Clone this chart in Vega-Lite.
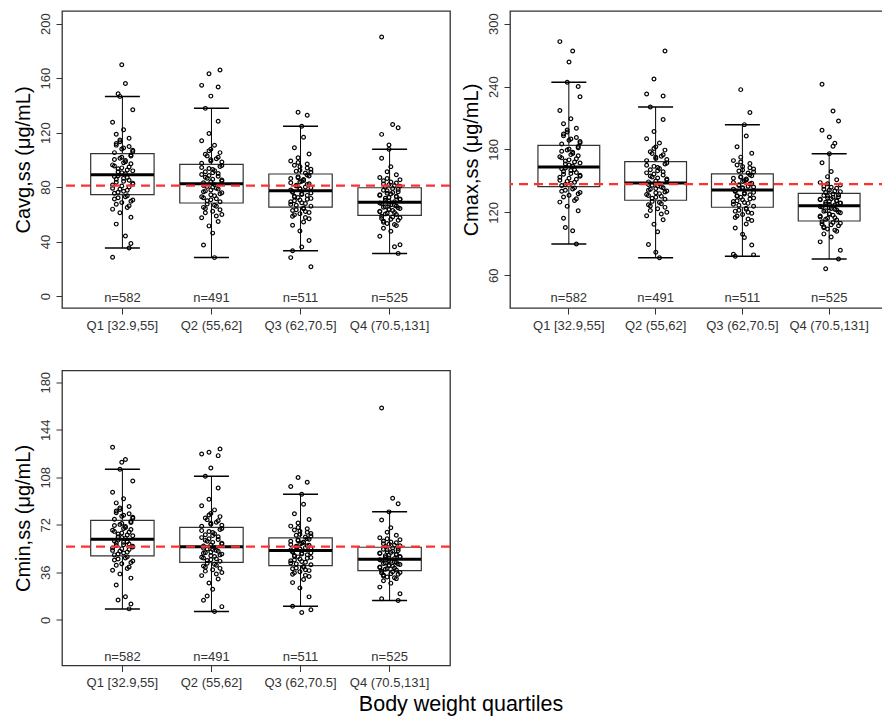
{
"$schema":"https://vega.github.io/schema/vega-lite/v6.json",
"background":"white",
"padding":{"left":12,"top":10,"right":0,"bottom":0},
"config":{"font":"Liberation Sans","view":{"stroke":"#333","strokeWidth":1.3},
"axis":{"labelFont":"Liberation Sans","labelFontSize":13,"labelColor":"#333","tickColor":"#333","tickSize":6,"domain":false,"grid":false,"titleFont":"Liberation Sans","titleFontWeight":"normal","titleColor":"black"},
"axisY":{"labelAngle":270,"labelAlign":"center","labelBaseline":"bottom","labelPadding":4,"titleFontSize":20,"titlePadding":6},
"axisX":{"labelAngle":0,"labelPadding":5}},
"title":{"text":"Body weight quartiles","orient":"bottom","anchor":"middle","fontSize":21.5,"fontWeight":"normal","color":"black","font":"Liberation Sans","offset":4,"dx":10},
"datasets":{
"grp":[{"g":1,"lab":"Q1 [32.9,55]","nl":"n=582"},{"g":2,"lab":"Q2 (55,62]","nl":"n=491"},{"g":3,"lab":"Q3 (62,70.5]","nl":"n=511"},{"g":4,"lab":"Q4 (70.5,131]","nl":"n=525"}],
"ref":[{"p":"a","r":81},{"p":"x","r":147},{"p":"n","r":55.5}],
"box":[
{"p":"a","g":1,"lo":35.2,"q1":74.4,"md":89.1,"q3":104.5,"hi":146.6},
{"p":"a","g":2,"lo":28.2,"q1":68.3,"md":82.5,"q3":96.7,"hi":137.8},
{"p":"a","g":3,"lo":33.3,"q1":65.3,"md":77.3,"q3":89.6,"hi":124.6},
{"p":"a","g":4,"lo":31.3,"q1":59.2,"md":68.8,"q3":79.5,"hi":107.7},
{"p":"x","g":1,"lo":89.9,"q1":144.5,"md":163.3,"q3":184,"hi":244.2},
{"p":"x","g":2,"lo":76.8,"q1":131.6,"md":148.1,"q3":168.4,"hi":220.6},
{"p":"x","g":3,"lo":78.1,"q1":124.9,"md":141.4,"q3":156.7,"hi":203.7},
{"p":"x","g":4,"lo":75.6,"q1":111.8,"md":126.4,"q3":138.2,"hi":176},
{"p":"n","g":1,"lo":8.3,"q1":48.5,"md":61,"q3":75.4,"hi":114.1},
{"p":"n","g":2,"lo":6.3,"q1":43.6,"md":55.3,"q3":70.1,"hi":108.8},
{"p":"n","g":3,"lo":10.3,"q1":41.1,"md":52.5,"q3":62.1,"hi":95.1},
{"p":"n","g":4,"lo":14.6,"q1":37.3,"md":45.9,"q3":55,"hi":81.8}],
"pts":[
{"p":"a","g":1,"k":7,"v":44.1},{"p":"a","g":1,"k":2,"v":52.8},{"p":"a","g":1,"k":10,"v":57.9},{"p":"a","g":1,"k":4,"v":61.1},{"p":"a","g":1,"k":0,"v":63.8},{"p":"a","g":1,"k":9,"v":66.2},{"p":"a","g":1,"k":5,"v":68.6},{"p":"a","g":1,"k":11,"v":70.5},{"p":"a","g":1,"k":3,"v":72.1},{"p":"a","g":1,"k":8,"v":73.7},
{"p":"a","g":1,"k":1,"v":75.4},{"p":"a","g":1,"k":6,"v":77},{"p":"a","g":1,"k":4,"v":78.4},{"p":"a","g":1,"k":9,"v":80},{"p":"a","g":1,"k":0,"v":81.5},{"p":"a","g":1,"k":11,"v":82.9},{"p":"a","g":1,"k":6,"v":84.2},{"p":"a","g":1,"k":2,"v":85.7},{"p":"a","g":1,"k":8,"v":87},{"p":"a","g":1,"k":3,"v":88.3},
{"p":"a","g":1,"k":10,"v":103.6},{"p":"a","g":1,"k":5,"v":101.9},{"p":"a","g":1,"k":1,"v":100.3},{"p":"a","g":1,"k":7,"v":98.6},{"p":"a","g":1,"k":10,"v":97.1},{"p":"a","g":1,"k":1,"v":95.5},{"p":"a","g":1,"k":5,"v":94.1},{"p":"a","g":1,"k":8,"v":92.6},{"p":"a","g":1,"k":3,"v":91.2},{"p":"a","g":1,"k":7,"v":89.8},
{"p":"a","g":1,"k":11,"v":136.8},{"p":"a","g":1,"k":0,"v":127.6},{"p":"a","g":1,"k":6,"v":122.1},{"p":"a","g":1,"k":2,"v":118.8},{"p":"a","g":1,"k":9,"v":115.8},{"p":"a","g":1,"k":4,"v":113.3},{"p":"a","g":1,"k":2,"v":110.8},{"p":"a","g":1,"k":6,"v":108.7},{"p":"a","g":1,"k":11,"v":107},{"p":"a","g":1,"k":1,"v":105.3},
{"p":"a","g":1,"k":9,"v":35.2},{"p":"a","g":1,"k":4,"v":146.6},{"p":"a","g":1,"k":0,"v":28.4},{"p":"a","g":1,"k":7,"v":156},{"p":"a","g":1,"k":5,"v":169.8},{"p":"a","g":1,"k":10,"v":38.5},{"p":"a","g":1,"k":3,"v":148.5},
{"p":"a","g":1,"k":3,"v":76.2},{"p":"a","g":1,"k":8,"v":77.7},{"p":"a","g":1,"k":0,"v":79.2},{"p":"a","g":1,"k":5,"v":80.8},{"p":"a","g":1,"k":11,"v":82.2},{"p":"a","g":1,"k":2,"v":83.6},{"p":"a","g":1,"k":9,"v":85},{"p":"a","g":1,"k":6,"v":86.4},{"p":"a","g":1,"k":1,"v":87.7},
{"p":"a","g":1,"k":10,"v":102.8},{"p":"a","g":1,"k":4,"v":101.1},{"p":"a","g":1,"k":7,"v":99.5},{"p":"a","g":1,"k":6,"v":97.9},{"p":"a","g":1,"k":0,"v":96.3},{"p":"a","g":1,"k":9,"v":94.8},{"p":"a","g":1,"k":3,"v":93.4},{"p":"a","g":1,"k":11,"v":91.9},{"p":"a","g":1,"k":5,"v":90.5},
{"p":"a","g":1,"k":8,"v":65},{"p":"a","g":1,"k":2,"v":67.4},{"p":"a","g":1,"k":10,"v":69.6},{"p":"a","g":1,"k":1,"v":71.3},{"p":"a","g":1,"k":7,"v":72.9},
{"p":"a","g":1,"k":4,"v":114.6},{"p":"a","g":1,"k":2,"v":112},{"p":"a","g":1,"k":9,"v":109.8},{"p":"a","g":1,"k":5,"v":107.9},{"p":"a","g":1,"k":11,"v":106.2},
{"p":"a","g":2,"k":1,"v":37.4},{"p":"a","g":2,"k":6,"v":46.2},{"p":"a","g":2,"k":4,"v":51.5},{"p":"a","g":2,"k":9,"v":54.7},{"p":"a","g":2,"k":0,"v":57.5},{"p":"a","g":2,"k":11,"v":59.9},{"p":"a","g":2,"k":6,"v":62.3},{"p":"a","g":2,"k":2,"v":64.3},{"p":"a","g":2,"k":8,"v":65.9},{"p":"a","g":2,"k":3,"v":67.5},
{"p":"a","g":2,"k":10,"v":69.2},{"p":"a","g":2,"k":5,"v":70.7},{"p":"a","g":2,"k":1,"v":72.1},{"p":"a","g":2,"k":7,"v":73.7},{"p":"a","g":2,"k":10,"v":75.1},{"p":"a","g":2,"k":1,"v":76.5},{"p":"a","g":2,"k":5,"v":77.8},{"p":"a","g":2,"k":8,"v":79.2},{"p":"a","g":2,"k":3,"v":80.5},{"p":"a","g":2,"k":7,"v":81.8},
{"p":"a","g":2,"k":11,"v":95.8},{"p":"a","g":2,"k":0,"v":94.3},{"p":"a","g":2,"k":6,"v":92.9},{"p":"a","g":2,"k":2,"v":91.3},{"p":"a","g":2,"k":9,"v":89.9},{"p":"a","g":2,"k":4,"v":88.5},{"p":"a","g":2,"k":2,"v":87.2},{"p":"a","g":2,"k":6,"v":85.8},{"p":"a","g":2,"k":11,"v":84.5},{"p":"a","g":2,"k":1,"v":83.2},
{"p":"a","g":2,"k":9,"v":128.3},{"p":"a","g":2,"k":4,"v":119.3},{"p":"a","g":2,"k":0,"v":114},{"p":"a","g":2,"k":7,"v":110.7},{"p":"a","g":2,"k":5,"v":107.8},{"p":"a","g":2,"k":10,"v":105.3},{"p":"a","g":2,"k":3,"v":102.9},{"p":"a","g":2,"k":8,"v":100.8},{"p":"a","g":2,"k":5,"v":99.2},{"p":"a","g":2,"k":0,"v":97.5},
{"p":"a","g":2,"k":7,"v":28.2},{"p":"a","g":2,"k":2,"v":137.8},{"p":"a","g":2,"k":10,"v":166},{"p":"a","g":2,"k":4,"v":163.2},{"p":"a","g":2,"k":0,"v":154.7},{"p":"a","g":2,"k":9,"v":153.5},{"p":"a","g":2,"k":5,"v":146.8},
{"p":"a","g":2,"k":3,"v":70},{"p":"a","g":2,"k":8,"v":71.4},{"p":"a","g":2,"k":0,"v":72.9},{"p":"a","g":2,"k":5,"v":74.4},{"p":"a","g":2,"k":11,"v":75.8},{"p":"a","g":2,"k":2,"v":77.2},{"p":"a","g":2,"k":9,"v":78.5},{"p":"a","g":2,"k":6,"v":79.9},{"p":"a","g":2,"k":1,"v":81.2},
{"p":"a","g":2,"k":10,"v":95.1},{"p":"a","g":2,"k":4,"v":93.6},{"p":"a","g":2,"k":7,"v":92.1},{"p":"a","g":2,"k":6,"v":90.6},{"p":"a","g":2,"k":0,"v":89.2},{"p":"a","g":2,"k":9,"v":87.9},{"p":"a","g":2,"k":3,"v":86.5},{"p":"a","g":2,"k":11,"v":85.2},{"p":"a","g":2,"k":5,"v":83.9},
{"p":"a","g":2,"k":8,"v":58.7},{"p":"a","g":2,"k":2,"v":61.1},{"p":"a","g":2,"k":10,"v":63.3},{"p":"a","g":2,"k":1,"v":65.1},{"p":"a","g":2,"k":7,"v":66.7},
{"p":"a","g":2,"k":4,"v":106.6},{"p":"a","g":2,"k":2,"v":104.1},{"p":"a","g":2,"k":9,"v":101.9},{"p":"a","g":2,"k":5,"v":100},{"p":"a","g":2,"k":11,"v":98.4},
{"p":"a","g":3,"k":10,"v":40.7},{"p":"a","g":3,"k":5,"v":47.7},{"p":"a","g":3,"k":1,"v":51.9},{"p":"a","g":3,"k":7,"v":54.4},{"p":"a","g":3,"k":10,"v":56.7},{"p":"a","g":3,"k":1,"v":58.6},{"p":"a","g":3,"k":5,"v":60.5},{"p":"a","g":3,"k":8,"v":62.1},{"p":"a","g":3,"k":3,"v":63.4},{"p":"a","g":3,"k":7,"v":64.7},
{"p":"a","g":3,"k":11,"v":66},{"p":"a","g":3,"k":0,"v":67.3},{"p":"a","g":3,"k":6,"v":68.5},{"p":"a","g":3,"k":2,"v":69.9},{"p":"a","g":3,"k":9,"v":71.1},{"p":"a","g":3,"k":4,"v":72.3},{"p":"a","g":3,"k":2,"v":73.3},{"p":"a","g":3,"k":6,"v":74.5},{"p":"a","g":3,"k":11,"v":75.6},{"p":"a","g":3,"k":1,"v":76.7},
{"p":"a","g":3,"k":9,"v":88.9},{"p":"a","g":3,"k":4,"v":87.5},{"p":"a","g":3,"k":0,"v":86.3},{"p":"a","g":3,"k":7,"v":84.9},{"p":"a","g":3,"k":5,"v":83.7},{"p":"a","g":3,"k":10,"v":82.5},{"p":"a","g":3,"k":3,"v":81.4},{"p":"a","g":3,"k":8,"v":80.1},{"p":"a","g":3,"k":5,"v":79},{"p":"a","g":3,"k":0,"v":77.9},
{"p":"a","g":3,"k":7,"v":116.6},{"p":"a","g":3,"k":2,"v":108.9},{"p":"a","g":3,"k":10,"v":104.3},{"p":"a","g":3,"k":4,"v":101.5},{"p":"a","g":3,"k":0,"v":99.1},{"p":"a","g":3,"k":9,"v":97},{"p":"a","g":3,"k":5,"v":94.9},{"p":"a","g":3,"k":11,"v":93.1},{"p":"a","g":3,"k":3,"v":91.7},{"p":"a","g":3,"k":8,"v":90.3},
{"p":"a","g":3,"k":1,"v":33.3},{"p":"a","g":3,"k":6,"v":124.6},{"p":"a","g":3,"k":4,"v":135},{"p":"a","g":3,"k":9,"v":132.7},{"p":"a","g":3,"k":0,"v":28.2},{"p":"a","g":3,"k":11,"v":21.5},{"p":"a","g":3,"k":6,"v":36},
{"p":"a","g":3,"k":3,"v":66.7},{"p":"a","g":3,"k":8,"v":67.9},{"p":"a","g":3,"k":0,"v":69.2},{"p":"a","g":3,"k":5,"v":70.5},{"p":"a","g":3,"k":11,"v":71.7},{"p":"a","g":3,"k":2,"v":72.8},{"p":"a","g":3,"k":9,"v":73.9},{"p":"a","g":3,"k":6,"v":75.1},{"p":"a","g":3,"k":1,"v":76.2},
{"p":"a","g":3,"k":10,"v":88.2},{"p":"a","g":3,"k":4,"v":86.9},{"p":"a","g":3,"k":7,"v":85.6},{"p":"a","g":3,"k":6,"v":84.3},{"p":"a","g":3,"k":0,"v":83.1},{"p":"a","g":3,"k":9,"v":82},{"p":"a","g":3,"k":3,"v":80.8},{"p":"a","g":3,"k":11,"v":79.6},{"p":"a","g":3,"k":5,"v":78.5},
{"p":"a","g":3,"k":8,"v":57.7},{"p":"a","g":3,"k":2,"v":59.6},{"p":"a","g":3,"k":10,"v":61.3},{"p":"a","g":3,"k":1,"v":62.8},{"p":"a","g":3,"k":7,"v":64.1},
{"p":"a","g":3,"k":4,"v":98.1},{"p":"a","g":3,"k":2,"v":96},{"p":"a","g":3,"k":9,"v":94},{"p":"a","g":3,"k":5,"v":92.4},{"p":"a","g":3,"k":11,"v":91},
{"p":"a","g":4,"k":11,"v":37.7},{"p":"a","g":4,"k":0,"v":43.9},{"p":"a","g":4,"k":6,"v":47.5},{"p":"a","g":4,"k":2,"v":49.7},{"p":"a","g":4,"k":9,"v":51.7},{"p":"a","g":4,"k":4,"v":53.3},{"p":"a","g":4,"k":2,"v":55},{"p":"a","g":4,"k":6,"v":56.4},{"p":"a","g":4,"k":11,"v":57.5},{"p":"a","g":4,"k":1,"v":58.6},
{"p":"a","g":4,"k":9,"v":59.8},{"p":"a","g":4,"k":4,"v":60.8},{"p":"a","g":4,"k":0,"v":61.8},{"p":"a","g":4,"k":7,"v":62.8},{"p":"a","g":4,"k":5,"v":63.8},{"p":"a","g":4,"k":10,"v":64.8},{"p":"a","g":4,"k":3,"v":65.6},{"p":"a","g":4,"k":8,"v":66.6},{"p":"a","g":4,"k":5,"v":67.5},{"p":"a","g":4,"k":0,"v":68.3},
{"p":"a","g":4,"k":7,"v":78.9},{"p":"a","g":4,"k":2,"v":77.7},{"p":"a","g":4,"k":10,"v":76.6},{"p":"a","g":4,"k":4,"v":75.4},{"p":"a","g":4,"k":0,"v":74.4},{"p":"a","g":4,"k":9,"v":73.3},{"p":"a","g":4,"k":5,"v":72.3},{"p":"a","g":4,"k":11,"v":71.3},{"p":"a","g":4,"k":3,"v":70.3},{"p":"a","g":4,"k":8,"v":69.3},
{"p":"a","g":4,"k":1,"v":101.2},{"p":"a","g":4,"k":6,"v":95},{"p":"a","g":4,"k":4,"v":91.3},{"p":"a","g":4,"k":9,"v":89.1},{"p":"a","g":4,"k":0,"v":87.1},{"p":"a","g":4,"k":11,"v":85.4},{"p":"a","g":4,"k":6,"v":83.7},{"p":"a","g":4,"k":2,"v":82.3},{"p":"a","g":4,"k":8,"v":81.2},{"p":"a","g":4,"k":3,"v":80.1},
{"p":"a","g":4,"k":10,"v":31.3},{"p":"a","g":4,"k":5,"v":107.7},{"p":"a","g":4,"k":1,"v":190.2},{"p":"a","g":4,"k":7,"v":126},{"p":"a","g":4,"k":10,"v":123.5},{"p":"a","g":4,"k":1,"v":118.7},{"p":"a","g":4,"k":5,"v":110.9},{"p":"a","g":4,"k":8,"v":36.2},
{"p":"a","g":4,"k":3,"v":60.3},{"p":"a","g":4,"k":8,"v":61.3},{"p":"a","g":4,"k":0,"v":62.3},{"p":"a","g":4,"k":5,"v":63.3},{"p":"a","g":4,"k":11,"v":64.3},{"p":"a","g":4,"k":2,"v":65.2},{"p":"a","g":4,"k":9,"v":66.1},{"p":"a","g":4,"k":6,"v":67},{"p":"a","g":4,"k":1,"v":67.9},
{"p":"a","g":4,"k":10,"v":78.3},{"p":"a","g":4,"k":4,"v":77.2},{"p":"a","g":4,"k":7,"v":76},{"p":"a","g":4,"k":6,"v":74.9},{"p":"a","g":4,"k":0,"v":73.9},{"p":"a","g":4,"k":9,"v":72.8},{"p":"a","g":4,"k":3,"v":71.8},{"p":"a","g":4,"k":11,"v":70.8},{"p":"a","g":4,"k":5,"v":69.8},
{"p":"a","g":4,"k":8,"v":52.5},{"p":"a","g":4,"k":2,"v":54.2},{"p":"a","g":4,"k":10,"v":55.7},{"p":"a","g":4,"k":1,"v":57},{"p":"a","g":4,"k":7,"v":58.1},
{"p":"a","g":4,"k":4,"v":86.3},{"p":"a","g":4,"k":2,"v":84.6},{"p":"a","g":4,"k":9,"v":83},{"p":"a","g":4,"k":5,"v":81.8},{"p":"a","g":4,"k":11,"v":80.7},
{"p":"x","g":1,"k":7,"v":102.5},{"p":"x","g":1,"k":2,"v":114.5},{"p":"x","g":1,"k":10,"v":121.6},{"p":"x","g":1,"k":4,"v":125.9},{"p":"x","g":1,"k":0,"v":129.8},{"p":"x","g":1,"k":9,"v":133},{"p":"x","g":1,"k":5,"v":136.3},{"p":"x","g":1,"k":11,"v":139},{"p":"x","g":1,"k":3,"v":141.2},{"p":"x","g":1,"k":8,"v":143.4},
{"p":"x","g":1,"k":1,"v":145.6},{"p":"x","g":1,"k":6,"v":147.7},{"p":"x","g":1,"k":4,"v":149.6},{"p":"x","g":1,"k":9,"v":151.6},{"p":"x","g":1,"k":0,"v":153.5},{"p":"x","g":1,"k":11,"v":155.4},{"p":"x","g":1,"k":6,"v":157.1},{"p":"x","g":1,"k":2,"v":159},{"p":"x","g":1,"k":8,"v":160.7},{"p":"x","g":1,"k":3,"v":162.4},
{"p":"x","g":1,"k":10,"v":182.8},{"p":"x","g":1,"k":5,"v":180.5},{"p":"x","g":1,"k":1,"v":178.4},{"p":"x","g":1,"k":7,"v":176.1},{"p":"x","g":1,"k":10,"v":174.1},{"p":"x","g":1,"k":1,"v":172},{"p":"x","g":1,"k":5,"v":170.1},{"p":"x","g":1,"k":8,"v":168.1},{"p":"x","g":1,"k":3,"v":166.2},{"p":"x","g":1,"k":7,"v":164.3},
{"p":"x","g":1,"k":11,"v":230.4},{"p":"x","g":1,"k":0,"v":217.1},{"p":"x","g":1,"k":6,"v":209.3},{"p":"x","g":1,"k":2,"v":204.5},{"p":"x","g":1,"k":9,"v":200.3},{"p":"x","g":1,"k":4,"v":196.6},{"p":"x","g":1,"k":2,"v":193},{"p":"x","g":1,"k":6,"v":190},{"p":"x","g":1,"k":11,"v":187.6},{"p":"x","g":1,"k":1,"v":185.2},
{"p":"x","g":1,"k":9,"v":89.9},{"p":"x","g":1,"k":4,"v":244.2},{"p":"x","g":1,"k":0,"v":282.9},{"p":"x","g":1,"k":7,"v":274},{"p":"x","g":1,"k":5,"v":263.5},{"p":"x","g":1,"k":10,"v":240},{"p":"x","g":1,"k":3,"v":105.5},
{"p":"x","g":1,"k":3,"v":146.7},{"p":"x","g":1,"k":8,"v":148.7},{"p":"x","g":1,"k":0,"v":150.6},{"p":"x","g":1,"k":5,"v":152.6},{"p":"x","g":1,"k":11,"v":154.5},{"p":"x","g":1,"k":2,"v":156.3},{"p":"x","g":1,"k":9,"v":158.1},{"p":"x","g":1,"k":6,"v":159.9},{"p":"x","g":1,"k":1,"v":161.6},
{"p":"x","g":1,"k":10,"v":181.7},{"p":"x","g":1,"k":4,"v":179.5},{"p":"x","g":1,"k":7,"v":177.3},{"p":"x","g":1,"k":6,"v":175.1},{"p":"x","g":1,"k":0,"v":173.1},{"p":"x","g":1,"k":9,"v":171.1},{"p":"x","g":1,"k":3,"v":169.1},{"p":"x","g":1,"k":11,"v":167.2},{"p":"x","g":1,"k":5,"v":165.3},
{"p":"x","g":1,"k":8,"v":131.4},{"p":"x","g":1,"k":2,"v":134.7},{"p":"x","g":1,"k":10,"v":137.7},{"p":"x","g":1,"k":1,"v":140.1},{"p":"x","g":1,"k":7,"v":142.3},
{"p":"x","g":1,"k":4,"v":198.5},{"p":"x","g":1,"k":2,"v":194.8},{"p":"x","g":1,"k":9,"v":191.5},{"p":"x","g":1,"k":5,"v":188.8},{"p":"x","g":1,"k":11,"v":186.4},
{"p":"x","g":2,"k":1,"v":89.4},{"p":"x","g":2,"k":6,"v":101.5},{"p":"x","g":2,"k":4,"v":108.6},{"p":"x","g":2,"k":9,"v":113},{"p":"x","g":2,"k":0,"v":116.8},{"p":"x","g":2,"k":11,"v":120.1},{"p":"x","g":2,"k":6,"v":123.4},{"p":"x","g":2,"k":2,"v":126.1},{"p":"x","g":2,"k":8,"v":128.3},{"p":"x","g":2,"k":3,"v":130.5},
{"p":"x","g":2,"k":10,"v":132.6},{"p":"x","g":2,"k":5,"v":134.4},{"p":"x","g":2,"k":1,"v":136.1},{"p":"x","g":2,"k":7,"v":137.9},{"p":"x","g":2,"k":10,"v":139.5},{"p":"x","g":2,"k":1,"v":141.2},{"p":"x","g":2,"k":5,"v":142.7},{"p":"x","g":2,"k":8,"v":144.3},{"p":"x","g":2,"k":3,"v":145.8},{"p":"x","g":2,"k":7,"v":147.3},
{"p":"x","g":2,"k":11,"v":167.2},{"p":"x","g":2,"k":0,"v":164.9},{"p":"x","g":2,"k":6,"v":162.9},{"p":"x","g":2,"k":2,"v":160.7},{"p":"x","g":2,"k":9,"v":158.7},{"p":"x","g":2,"k":4,"v":156.6},{"p":"x","g":2,"k":2,"v":154.8},{"p":"x","g":2,"k":6,"v":152.8},{"p":"x","g":2,"k":11,"v":150.9},{"p":"x","g":2,"k":1,"v":149.1},
{"p":"x","g":2,"k":9,"v":208.6},{"p":"x","g":2,"k":4,"v":197.1},{"p":"x","g":2,"k":0,"v":190.3},{"p":"x","g":2,"k":7,"v":186.1},{"p":"x","g":2,"k":5,"v":182.5},{"p":"x","g":2,"k":10,"v":179.4},{"p":"x","g":2,"k":3,"v":176.2},{"p":"x","g":2,"k":8,"v":173.6},{"p":"x","g":2,"k":5,"v":171.5},{"p":"x","g":2,"k":0,"v":169.4},
{"p":"x","g":2,"k":7,"v":76.8},{"p":"x","g":2,"k":2,"v":220.6},{"p":"x","g":2,"k":10,"v":274},{"p":"x","g":2,"k":4,"v":247.3},{"p":"x","g":2,"k":0,"v":233},{"p":"x","g":2,"k":9,"v":231},{"p":"x","g":2,"k":5,"v":82},
{"p":"x","g":2,"k":3,"v":133.5},{"p":"x","g":2,"k":8,"v":135.3},{"p":"x","g":2,"k":0,"v":137},{"p":"x","g":2,"k":5,"v":138.7},{"p":"x","g":2,"k":11,"v":140.4},{"p":"x","g":2,"k":2,"v":142},{"p":"x","g":2,"k":9,"v":143.5},{"p":"x","g":2,"k":6,"v":145.1},{"p":"x","g":2,"k":1,"v":146.6},
{"p":"x","g":2,"k":10,"v":166.1},{"p":"x","g":2,"k":4,"v":163.9},{"p":"x","g":2,"k":7,"v":161.8},{"p":"x","g":2,"k":6,"v":159.7},{"p":"x","g":2,"k":0,"v":157.7},{"p":"x","g":2,"k":9,"v":155.7},{"p":"x","g":2,"k":3,"v":153.8},{"p":"x","g":2,"k":11,"v":151.9},{"p":"x","g":2,"k":5,"v":150},
{"p":"x","g":2,"k":8,"v":118.5},{"p":"x","g":2,"k":2,"v":121.8},{"p":"x","g":2,"k":10,"v":124.8},{"p":"x","g":2,"k":1,"v":127.2},{"p":"x","g":2,"k":7,"v":129.4},
{"p":"x","g":2,"k":4,"v":181},{"p":"x","g":2,"k":2,"v":177.8},{"p":"x","g":2,"k":9,"v":174.9},{"p":"x","g":2,"k":5,"v":172.6},{"p":"x","g":2,"k":11,"v":170.5},
{"p":"x","g":3,"k":10,"v":88.9},{"p":"x","g":3,"k":5,"v":99.2},{"p":"x","g":3,"k":1,"v":105.2},{"p":"x","g":3,"k":7,"v":109},{"p":"x","g":3,"k":10,"v":112.3},{"p":"x","g":3,"k":1,"v":115.1},{"p":"x","g":3,"k":5,"v":117.9},{"p":"x","g":3,"k":8,"v":120.2},{"p":"x","g":3,"k":3,"v":122.1},{"p":"x","g":3,"k":7,"v":124},
{"p":"x","g":3,"k":11,"v":125.9},{"p":"x","g":3,"k":0,"v":127.7},{"p":"x","g":3,"k":6,"v":129.4},{"p":"x","g":3,"k":2,"v":131.2},{"p":"x","g":3,"k":9,"v":132.8},{"p":"x","g":3,"k":4,"v":134.5},{"p":"x","g":3,"k":2,"v":136},{"p":"x","g":3,"k":6,"v":137.6},{"p":"x","g":3,"k":11,"v":139.1},{"p":"x","g":3,"k":1,"v":140.6},
{"p":"x","g":3,"k":9,"v":155.8},{"p":"x","g":3,"k":4,"v":154.1},{"p":"x","g":3,"k":0,"v":152.6},{"p":"x","g":3,"k":7,"v":150.9},{"p":"x","g":3,"k":5,"v":149.4},{"p":"x","g":3,"k":10,"v":147.8},{"p":"x","g":3,"k":3,"v":146.4},{"p":"x","g":3,"k":8,"v":144.9},{"p":"x","g":3,"k":5,"v":143.5},{"p":"x","g":3,"k":0,"v":142.2},
{"p":"x","g":3,"k":7,"v":192.9},{"p":"x","g":3,"k":2,"v":182.6},{"p":"x","g":3,"k":10,"v":176.4},{"p":"x","g":3,"k":4,"v":172.7},{"p":"x","g":3,"k":0,"v":169.4},{"p":"x","g":3,"k":9,"v":166.6},{"p":"x","g":3,"k":5,"v":163.8},{"p":"x","g":3,"k":11,"v":161.4},{"p":"x","g":3,"k":3,"v":159.5},{"p":"x","g":3,"k":8,"v":157.6},
{"p":"x","g":3,"k":1,"v":78.1},{"p":"x","g":3,"k":6,"v":203.7},{"p":"x","g":3,"k":4,"v":237.1},{"p":"x","g":3,"k":9,"v":215.2},{"p":"x","g":3,"k":0,"v":80},{"p":"x","g":3,"k":11,"v":79.5},{"p":"x","g":3,"k":6,"v":96},
{"p":"x","g":3,"k":3,"v":126.8},{"p":"x","g":3,"k":8,"v":128.6},{"p":"x","g":3,"k":0,"v":130.3},{"p":"x","g":3,"k":5,"v":132},{"p":"x","g":3,"k":11,"v":133.7},{"p":"x","g":3,"k":2,"v":135.3},{"p":"x","g":3,"k":9,"v":136.8},{"p":"x","g":3,"k":6,"v":138.4},{"p":"x","g":3,"k":1,"v":139.9},
{"p":"x","g":3,"k":10,"v":155},{"p":"x","g":3,"k":4,"v":153.4},{"p":"x","g":3,"k":7,"v":151.8},{"p":"x","g":3,"k":6,"v":150.2},{"p":"x","g":3,"k":0,"v":148.6},{"p":"x","g":3,"k":9,"v":147.1},{"p":"x","g":3,"k":3,"v":145.7},{"p":"x","g":3,"k":11,"v":144.2},{"p":"x","g":3,"k":5,"v":142.9},
{"p":"x","g":3,"k":8,"v":113.7},{"p":"x","g":3,"k":2,"v":116.5},{"p":"x","g":3,"k":10,"v":119.1},{"p":"x","g":3,"k":1,"v":121.2},{"p":"x","g":3,"k":7,"v":123.1},
{"p":"x","g":3,"k":4,"v":168},{"p":"x","g":3,"k":2,"v":165.2},{"p":"x","g":3,"k":9,"v":162.6},{"p":"x","g":3,"k":5,"v":160.5},{"p":"x","g":3,"k":11,"v":158.6},
{"p":"x","g":4,"k":11,"v":83.9},{"p":"x","g":4,"k":0,"v":91.9},{"p":"x","g":4,"k":6,"v":96.6},{"p":"x","g":4,"k":2,"v":99.5},{"p":"x","g":4,"k":9,"v":102},{"p":"x","g":4,"k":4,"v":104.2},{"p":"x","g":4,"k":2,"v":106.4},{"p":"x","g":4,"k":6,"v":108.2},{"p":"x","g":4,"k":11,"v":109.6},{"p":"x","g":4,"k":1,"v":111.1},
{"p":"x","g":4,"k":9,"v":112.7},{"p":"x","g":4,"k":4,"v":114.3},{"p":"x","g":4,"k":0,"v":115.7},{"p":"x","g":4,"k":7,"v":117.3},{"p":"x","g":4,"k":5,"v":118.8},{"p":"x","g":4,"k":10,"v":120.3},{"p":"x","g":4,"k":3,"v":121.6},{"p":"x","g":4,"k":8,"v":123},{"p":"x","g":4,"k":5,"v":124.4},{"p":"x","g":4,"k":0,"v":125.7},
{"p":"x","g":4,"k":7,"v":137.5},{"p":"x","g":4,"k":2,"v":136.2},{"p":"x","g":4,"k":10,"v":135},{"p":"x","g":4,"k":4,"v":133.7},{"p":"x","g":4,"k":0,"v":132.5},{"p":"x","g":4,"k":9,"v":131.4},{"p":"x","g":4,"k":5,"v":130.3},{"p":"x","g":4,"k":11,"v":129.1},{"p":"x","g":4,"k":3,"v":128.1},{"p":"x","g":4,"k":8,"v":127},
{"p":"x","g":4,"k":1,"v":167.3},{"p":"x","g":4,"k":6,"v":159},{"p":"x","g":4,"k":4,"v":154.1},{"p":"x","g":4,"k":9,"v":151.1},{"p":"x","g":4,"k":0,"v":148.4},{"p":"x","g":4,"k":11,"v":146.1},{"p":"x","g":4,"k":6,"v":143.9},{"p":"x","g":4,"k":2,"v":142},{"p":"x","g":4,"k":8,"v":140.5},{"p":"x","g":4,"k":3,"v":139},
{"p":"x","g":4,"k":10,"v":75.6},{"p":"x","g":4,"k":5,"v":176},{"p":"x","g":4,"k":1,"v":242.2},{"p":"x","g":4,"k":7,"v":216.8},{"p":"x","g":4,"k":10,"v":207.2},{"p":"x","g":4,"k":1,"v":198.4},{"p":"x","g":4,"k":5,"v":192},{"p":"x","g":4,"k":8,"v":186},{"p":"x","g":4,"k":3,"v":66.3},{"p":"x","g":4,"k":7,"v":183},
{"p":"x","g":4,"k":3,"v":113.5},{"p":"x","g":4,"k":8,"v":115},{"p":"x","g":4,"k":0,"v":116.5},{"p":"x","g":4,"k":5,"v":118.1},{"p":"x","g":4,"k":11,"v":119.6},{"p":"x","g":4,"k":2,"v":121},{"p":"x","g":4,"k":9,"v":122.3},{"p":"x","g":4,"k":6,"v":123.7},{"p":"x","g":4,"k":1,"v":125.1},
{"p":"x","g":4,"k":10,"v":136.9},{"p":"x","g":4,"k":4,"v":135.6},{"p":"x","g":4,"k":7,"v":134.4},{"p":"x","g":4,"k":6,"v":133.1},{"p":"x","g":4,"k":0,"v":132},{"p":"x","g":4,"k":9,"v":130.9},{"p":"x","g":4,"k":3,"v":129.7},{"p":"x","g":4,"k":11,"v":128.6},{"p":"x","g":4,"k":5,"v":127.6},
{"p":"x","g":4,"k":8,"v":103.1},{"p":"x","g":4,"k":2,"v":105.3},{"p":"x","g":4,"k":10,"v":107.3},{"p":"x","g":4,"k":1,"v":108.9},{"p":"x","g":4,"k":7,"v":110.4},
{"p":"x","g":4,"k":4,"v":147.3},{"p":"x","g":4,"k":2,"v":145},{"p":"x","g":4,"k":9,"v":143},{"p":"x","g":4,"k":5,"v":141.3},{"p":"x","g":4,"k":11,"v":139.8},
{"p":"n","g":1,"k":7,"v":17.5},{"p":"n","g":1,"k":2,"v":26.4},{"p":"n","g":1,"k":10,"v":31.6},{"p":"n","g":1,"k":4,"v":34.8},{"p":"n","g":1,"k":0,"v":37.6},{"p":"n","g":1,"k":9,"v":40.1},{"p":"n","g":1,"k":5,"v":42.5},{"p":"n","g":1,"k":11,"v":44.5},{"p":"n","g":1,"k":3,"v":46.1},{"p":"n","g":1,"k":8,"v":47.7},
{"p":"n","g":1,"k":1,"v":49.2},{"p":"n","g":1,"k":6,"v":50.6},{"p":"n","g":1,"k":4,"v":51.9},{"p":"n","g":1,"k":9,"v":53.2},{"p":"n","g":1,"k":0,"v":54.5},{"p":"n","g":1,"k":11,"v":55.7},{"p":"n","g":1,"k":6,"v":56.9},{"p":"n","g":1,"k":2,"v":58.1},{"p":"n","g":1,"k":8,"v":59.2},{"p":"n","g":1,"k":3,"v":60.4},
{"p":"n","g":1,"k":10,"v":74.5},{"p":"n","g":1,"k":5,"v":73},{"p":"n","g":1,"k":1,"v":71.5},{"p":"n","g":1,"k":7,"v":69.9},{"p":"n","g":1,"k":10,"v":68.5},{"p":"n","g":1,"k":1,"v":67},{"p":"n","g":1,"k":5,"v":65.8},{"p":"n","g":1,"k":8,"v":64.3},{"p":"n","g":1,"k":3,"v":63},{"p":"n","g":1,"k":7,"v":61.7},
{"p":"n","g":1,"k":11,"v":105.2},{"p":"n","g":1,"k":0,"v":96.7},{"p":"n","g":1,"k":6,"v":91.7},{"p":"n","g":1,"k":2,"v":88.6},{"p":"n","g":1,"k":9,"v":85.8},{"p":"n","g":1,"k":4,"v":83.5},{"p":"n","g":1,"k":2,"v":81.2},{"p":"n","g":1,"k":6,"v":79.3},{"p":"n","g":1,"k":11,"v":77.7},{"p":"n","g":1,"k":1,"v":76.2},
{"p":"n","g":1,"k":9,"v":8.3},{"p":"n","g":1,"k":4,"v":114.1},{"p":"n","g":1,"k":0,"v":130.7},{"p":"n","g":1,"k":7,"v":121.4},{"p":"n","g":1,"k":5,"v":119.4},{"p":"n","g":1,"k":10,"v":12},{"p":"n","g":1,"k":3,"v":15},
{"p":"n","g":1,"k":3,"v":49.9},{"p":"n","g":1,"k":8,"v":51.3},{"p":"n","g":1,"k":0,"v":52.6},{"p":"n","g":1,"k":5,"v":53.9},{"p":"n","g":1,"k":11,"v":55.1},{"p":"n","g":1,"k":2,"v":56.3},{"p":"n","g":1,"k":9,"v":57.5},{"p":"n","g":1,"k":6,"v":58.7},{"p":"n","g":1,"k":1,"v":59.8},
{"p":"n","g":1,"k":10,"v":73.8},{"p":"n","g":1,"k":4,"v":72.3},{"p":"n","g":1,"k":7,"v":70.7},{"p":"n","g":1,"k":6,"v":69.2},{"p":"n","g":1,"k":0,"v":67.8},{"p":"n","g":1,"k":9,"v":66.4},{"p":"n","g":1,"k":3,"v":65.1},{"p":"n","g":1,"k":11,"v":63.7},{"p":"n","g":1,"k":5,"v":62.4},
{"p":"n","g":1,"k":8,"v":38.9},{"p":"n","g":1,"k":2,"v":41.3},{"p":"n","g":1,"k":10,"v":43.5},{"p":"n","g":1,"k":1,"v":45.3},{"p":"n","g":1,"k":7,"v":46.9},
{"p":"n","g":1,"k":4,"v":84.7},{"p":"n","g":1,"k":2,"v":82.4},{"p":"n","g":1,"k":9,"v":80.3},{"p":"n","g":1,"k":5,"v":78.5},{"p":"n","g":1,"k":11,"v":77},
{"p":"n","g":2,"k":1,"v":14.9},{"p":"n","g":2,"k":6,"v":23.1},{"p":"n","g":2,"k":4,"v":27.9},{"p":"n","g":2,"k":9,"v":30.9},{"p":"n","g":2,"k":0,"v":33.5},{"p":"n","g":2,"k":11,"v":35.8},{"p":"n","g":2,"k":6,"v":38},{"p":"n","g":2,"k":2,"v":39.9},{"p":"n","g":2,"k":8,"v":41.4},{"p":"n","g":2,"k":3,"v":42.9},
{"p":"n","g":2,"k":10,"v":44.3},{"p":"n","g":2,"k":5,"v":45.6},{"p":"n","g":2,"k":1,"v":46.8},{"p":"n","g":2,"k":7,"v":48},{"p":"n","g":2,"k":10,"v":49.2},{"p":"n","g":2,"k":1,"v":50.4},{"p":"n","g":2,"k":5,"v":51.4},{"p":"n","g":2,"k":8,"v":52.6},{"p":"n","g":2,"k":3,"v":53.7},{"p":"n","g":2,"k":7,"v":54.7},
{"p":"n","g":2,"k":11,"v":69.2},{"p":"n","g":2,"k":0,"v":67.6},{"p":"n","g":2,"k":6,"v":66.1},{"p":"n","g":2,"k":2,"v":64.5},{"p":"n","g":2,"k":9,"v":63},{"p":"n","g":2,"k":4,"v":61.5},{"p":"n","g":2,"k":2,"v":60.2},{"p":"n","g":2,"k":6,"v":58.7},{"p":"n","g":2,"k":11,"v":57.4},{"p":"n","g":2,"k":1,"v":56},
{"p":"n","g":2,"k":9,"v":99.9},{"p":"n","g":2,"k":4,"v":91.4},{"p":"n","g":2,"k":0,"v":86.4},{"p":"n","g":2,"k":7,"v":83.3},{"p":"n","g":2,"k":5,"v":80.5},{"p":"n","g":2,"k":10,"v":78.2},{"p":"n","g":2,"k":3,"v":75.9},{"p":"n","g":2,"k":8,"v":74},{"p":"n","g":2,"k":5,"v":72.4},{"p":"n","g":2,"k":0,"v":70.9},
{"p":"n","g":2,"k":7,"v":6.3},{"p":"n","g":2,"k":2,"v":108.8},{"p":"n","g":2,"k":10,"v":129.5},{"p":"n","g":2,"k":4,"v":126.9},{"p":"n","g":2,"k":0,"v":125.7},{"p":"n","g":2,"k":9,"v":124.4},{"p":"n","g":2,"k":5,"v":115.1},{"p":"n","g":2,"k":11,"v":10},{"p":"n","g":2,"k":3,"v":18},
{"p":"n","g":2,"k":3,"v":45},{"p":"n","g":2,"k":8,"v":46.2},{"p":"n","g":2,"k":0,"v":47.4},{"p":"n","g":2,"k":5,"v":48.6},{"p":"n","g":2,"k":11,"v":49.8},{"p":"n","g":2,"k":2,"v":50.9},{"p":"n","g":2,"k":9,"v":52},{"p":"n","g":2,"k":6,"v":53.2},{"p":"n","g":2,"k":1,"v":54.2},
{"p":"n","g":2,"k":10,"v":68.4},{"p":"n","g":2,"k":4,"v":66.9},{"p":"n","g":2,"k":7,"v":65.3},{"p":"n","g":2,"k":6,"v":63.8},{"p":"n","g":2,"k":0,"v":62.3},{"p":"n","g":2,"k":9,"v":60.9},{"p":"n","g":2,"k":3,"v":59.5},{"p":"n","g":2,"k":11,"v":58.1},{"p":"n","g":2,"k":5,"v":56.7},
{"p":"n","g":2,"k":8,"v":34.7},{"p":"n","g":2,"k":2,"v":36.9},{"p":"n","g":2,"k":10,"v":39},{"p":"n","g":2,"k":1,"v":40.7},{"p":"n","g":2,"k":7,"v":42.2},
{"p":"n","g":2,"k":4,"v":79.4},{"p":"n","g":2,"k":2,"v":77.1},{"p":"n","g":2,"k":9,"v":75},{"p":"n","g":2,"k":5,"v":73.2},{"p":"n","g":2,"k":11,"v":71.7},
{"p":"n","g":3,"k":10,"v":17.4},{"p":"n","g":3,"k":5,"v":24.2},{"p":"n","g":3,"k":1,"v":28.2},{"p":"n","g":3,"k":7,"v":30.6},{"p":"n","g":3,"k":10,"v":32.8},{"p":"n","g":3,"k":1,"v":34.6},{"p":"n","g":3,"k":5,"v":36.5},{"p":"n","g":3,"k":8,"v":38},{"p":"n","g":3,"k":3,"v":39.3},{"p":"n","g":3,"k":7,"v":40.5},
{"p":"n","g":3,"k":11,"v":41.8},{"p":"n","g":3,"k":0,"v":43},{"p":"n","g":3,"k":6,"v":44.2},{"p":"n","g":3,"k":2,"v":45.4},{"p":"n","g":3,"k":9,"v":46.6},{"p":"n","g":3,"k":4,"v":47.7},{"p":"n","g":3,"k":2,"v":48.7},{"p":"n","g":3,"k":6,"v":49.9},{"p":"n","g":3,"k":11,"v":50.9},{"p":"n","g":3,"k":1,"v":51.9},
{"p":"n","g":3,"k":9,"v":61.5},{"p":"n","g":3,"k":4,"v":60.5},{"p":"n","g":3,"k":0,"v":59.5},{"p":"n","g":3,"k":7,"v":58.5},{"p":"n","g":3,"k":5,"v":57.5},{"p":"n","g":3,"k":10,"v":56.5},{"p":"n","g":3,"k":3,"v":55.7},{"p":"n","g":3,"k":8,"v":54.7},{"p":"n","g":3,"k":5,"v":53.8},{"p":"n","g":3,"k":0,"v":53},
{"p":"n","g":3,"k":7,"v":87.5},{"p":"n","g":3,"k":2,"v":80.3},{"p":"n","g":3,"k":10,"v":76},{"p":"n","g":3,"k":4,"v":73.3},{"p":"n","g":3,"k":0,"v":71},{"p":"n","g":3,"k":9,"v":69},{"p":"n","g":3,"k":5,"v":67.1},{"p":"n","g":3,"k":11,"v":65.4},{"p":"n","g":3,"k":3,"v":64.1},{"p":"n","g":3,"k":8,"v":62.8},
{"p":"n","g":3,"k":1,"v":10.3},{"p":"n","g":3,"k":6,"v":95.1},{"p":"n","g":3,"k":4,"v":107.8},{"p":"n","g":3,"k":9,"v":104.2},{"p":"n","g":3,"k":0,"v":101},{"p":"n","g":3,"k":11,"v":7.6},{"p":"n","g":3,"k":6,"v":5.5},
{"p":"n","g":3,"k":3,"v":42.4},{"p":"n","g":3,"k":8,"v":43.6},{"p":"n","g":3,"k":0,"v":44.8},{"p":"n","g":3,"k":5,"v":46},{"p":"n","g":3,"k":11,"v":47.2},{"p":"n","g":3,"k":2,"v":48.2},{"p":"n","g":3,"k":9,"v":49.3},{"p":"n","g":3,"k":6,"v":50.4},{"p":"n","g":3,"k":1,"v":51.4},
{"p":"n","g":3,"k":10,"v":61},{"p":"n","g":3,"k":4,"v":60},{"p":"n","g":3,"k":7,"v":59},{"p":"n","g":3,"k":6,"v":58},{"p":"n","g":3,"k":0,"v":57},{"p":"n","g":3,"k":9,"v":56.1},{"p":"n","g":3,"k":3,"v":55.2},{"p":"n","g":3,"k":11,"v":54.3},{"p":"n","g":3,"k":5,"v":53.4},
{"p":"n","g":3,"k":8,"v":33.7},{"p":"n","g":3,"k":2,"v":35.6},{"p":"n","g":3,"k":10,"v":37.3},{"p":"n","g":3,"k":1,"v":38.7},{"p":"n","g":3,"k":7,"v":39.9},
{"p":"n","g":3,"k":4,"v":70},{"p":"n","g":3,"k":2,"v":68.1},{"p":"n","g":3,"k":9,"v":66.3},{"p":"n","g":3,"k":5,"v":64.8},{"p":"n","g":3,"k":11,"v":63.5},
{"p":"n","g":4,"k":11,"v":19.8},{"p":"n","g":4,"k":0,"v":24.8},{"p":"n","g":4,"k":6,"v":27.8},{"p":"n","g":4,"k":2,"v":29.6},{"p":"n","g":4,"k":9,"v":31.2},{"p":"n","g":4,"k":4,"v":32.5},{"p":"n","g":4,"k":2,"v":33.9},{"p":"n","g":4,"k":6,"v":35},{"p":"n","g":4,"k":11,"v":35.9},{"p":"n","g":4,"k":1,"v":36.8},
{"p":"n","g":4,"k":9,"v":37.8},{"p":"n","g":4,"k":4,"v":38.8},{"p":"n","g":4,"k":0,"v":39.6},{"p":"n","g":4,"k":7,"v":40.6},{"p":"n","g":4,"k":5,"v":41.4},{"p":"n","g":4,"k":10,"v":42.3},{"p":"n","g":4,"k":3,"v":43.1},{"p":"n","g":4,"k":8,"v":43.9},{"p":"n","g":4,"k":5,"v":44.7},{"p":"n","g":4,"k":0,"v":45.5},
{"p":"n","g":4,"k":7,"v":54.5},{"p":"n","g":4,"k":2,"v":53.5},{"p":"n","g":4,"k":10,"v":52.5},{"p":"n","g":4,"k":4,"v":51.5},{"p":"n","g":4,"k":0,"v":50.6},{"p":"n","g":4,"k":9,"v":49.7},{"p":"n","g":4,"k":5,"v":48.9},{"p":"n","g":4,"k":11,"v":48},{"p":"n","g":4,"k":3,"v":47.2},{"p":"n","g":4,"k":8,"v":46.4},
{"p":"n","g":4,"k":1,"v":75.6},{"p":"n","g":4,"k":6,"v":69.7},{"p":"n","g":4,"k":4,"v":66.3},{"p":"n","g":4,"k":9,"v":64.1},{"p":"n","g":4,"k":0,"v":62.2},{"p":"n","g":4,"k":11,"v":60.6},{"p":"n","g":4,"k":6,"v":59},{"p":"n","g":4,"k":2,"v":57.7},{"p":"n","g":4,"k":8,"v":56.6},{"p":"n","g":4,"k":3,"v":55.5},
{"p":"n","g":4,"k":10,"v":14.6},{"p":"n","g":4,"k":5,"v":81.8},{"p":"n","g":4,"k":1,"v":160.5},{"p":"n","g":4,"k":7,"v":92.1},{"p":"n","g":4,"k":10,"v":88},{"p":"n","g":4,"k":1,"v":16},
{"p":"n","g":4,"k":3,"v":38.3},{"p":"n","g":4,"k":8,"v":39.2},{"p":"n","g":4,"k":0,"v":40.1},{"p":"n","g":4,"k":5,"v":41},{"p":"n","g":4,"k":11,"v":41.9},{"p":"n","g":4,"k":2,"v":42.7},{"p":"n","g":4,"k":9,"v":43.5},{"p":"n","g":4,"k":6,"v":44.3},{"p":"n","g":4,"k":1,"v":45.1},
{"p":"n","g":4,"k":10,"v":54},{"p":"n","g":4,"k":4,"v":53},{"p":"n","g":4,"k":7,"v":52},{"p":"n","g":4,"k":6,"v":51.1},{"p":"n","g":4,"k":0,"v":50.2},{"p":"n","g":4,"k":9,"v":49.3},{"p":"n","g":4,"k":3,"v":48.5},{"p":"n","g":4,"k":11,"v":47.6},{"p":"n","g":4,"k":5,"v":46.8},
{"p":"n","g":4,"k":8,"v":31.9},{"p":"n","g":4,"k":2,"v":33.2},{"p":"n","g":4,"k":10,"v":34.5},{"p":"n","g":4,"k":1,"v":35.5},{"p":"n","g":4,"k":7,"v":36.4},
{"p":"n","g":4,"k":4,"v":61.4},{"p":"n","g":4,"k":2,"v":59.8},{"p":"n","g":4,"k":9,"v":58.4},{"p":"n","g":4,"k":5,"v":57.2},{"p":"n","g":4,"k":11,"v":56.1}
]},
"spacing":36.5,
"vconcat":[
{"hconcat":[
{"width":388,"height":297,
 "layer":[
  {"data":{"name":"box"},"transform":[{"filter":"datum.p=='a'"},{"lookup":"g","from":{"data":{"name":"grp"},"key":"g","fields":["lab"]}}],
   "encoding":{"x":{"field":"lab","type":"nominal","title":null,"scale":{"paddingInner":0.288,"paddingOuter":0.322}}},
   "layer":[
    {"mark":{"type":"rule","color":"black","strokeWidth":1},"encoding":{"y":{"field":"lo","type":"quantitative","scale":{"domain":[-8.8,209.3],"nice":false,"zero":false},"axis":{"values":[0,40,80,120,160,200],"title":"Cavg,ss (μg/mL)"}},"y2":{"field":"hi"}}},
    {"mark":{"type":"tick","orient":"horizontal","size":35,"thickness":1.5,"color":"black","opacity":1},"encoding":{"y":{"field":"lo","type":"quantitative"}}},
    {"mark":{"type":"tick","orient":"horizontal","size":35,"thickness":1.5,"color":"black","opacity":1},"encoding":{"y":{"field":"hi","type":"quantitative"}}},
    {"mark":{"type":"rect","fill":"white","stroke":"#333","strokeWidth":1.2,"width":63.4},"encoding":{"y":{"field":"q1","type":"quantitative"},"y2":{"field":"q3"}}}
   ]},
  {"data":{"name":"pts"},"transform":[{"filter":"datum.p=='a'"},{"lookup":"g","from":{"data":{"name":"grp"},"key":"g","fields":["lab"]}}],
   "mark":{"type":"point","shape":"circle","filled":false,"color":"black","strokeWidth":1.2,"size":14,"opacity":1},
   "encoding":{"x":{"field":"lab","type":"nominal"},"xOffset":{"field":"k","type":"nominal","scale":{"range":[21,43]}},"y":{"field":"v","type":"quantitative"}}},
  {"data":{"name":"box"},"transform":[{"filter":"datum.p=='a'"},{"lookup":"g","from":{"data":{"name":"grp"},"key":"g","fields":["lab"]}}],
   "mark":{"type":"tick","orient":"horizontal","size":63,"thickness":3,"color":"black","opacity":1},
   "encoding":{"x":{"field":"lab","type":"nominal"},"y":{"field":"md","type":"quantitative"}}},
  {"data":{"name":"ref"},"transform":[{"filter":"datum.p=='a'"}],"mark":{"type":"rule","color":"#ff3030","strokeDash":[9,6],"strokeWidth":2.2},"encoding":{"y":{"field":"r","type":"quantitative"}}},
  {"data":{"name":"grp"},"mark":{"type":"text","fontSize":13,"color":"#333","baseline":"middle","font":"Liberation Sans"},"encoding":{"x":{"field":"lab","type":"nominal"},"y":{"datum":-1.5},"text":{"field":"nl"}}}
 ]},
{"width":378,"height":297,
 "layer":[
  {"data":{"name":"box"},"transform":[{"filter":"datum.p=='x'"},{"lookup":"g","from":{"data":{"name":"grp"},"key":"g","fields":["lab"]}}],
   "encoding":{"x":{"field":"lab","type":"nominal","title":null,"scale":{"paddingInner":0.288,"paddingOuter":0.322}}},
   "layer":[
    {"mark":{"type":"rule","color":"black","strokeWidth":1},"encoding":{"y":{"field":"lo","type":"quantitative","scale":{"domain":[28.8,312.1],"nice":false,"zero":false},"axis":{"values":[60,120,180,240,300],"title":"Cmax,ss (μg/mL)"}},"y2":{"field":"hi"}}},
    {"mark":{"type":"tick","orient":"horizontal","size":35,"thickness":1.5,"color":"black","opacity":1},"encoding":{"y":{"field":"lo","type":"quantitative"}}},
    {"mark":{"type":"tick","orient":"horizontal","size":35,"thickness":1.5,"color":"black","opacity":1},"encoding":{"y":{"field":"hi","type":"quantitative"}}},
    {"mark":{"type":"rect","fill":"white","stroke":"#333","strokeWidth":1.2,"width":61.8},"encoding":{"y":{"field":"q1","type":"quantitative"},"y2":{"field":"q3"}}}
   ]},
  {"data":{"name":"pts"},"transform":[{"filter":"datum.p=='x'"},{"lookup":"g","from":{"data":{"name":"grp"},"key":"g","fields":["lab"]}}],
   "mark":{"type":"point","shape":"circle","filled":false,"color":"black","strokeWidth":1.2,"size":14,"opacity":1},
   "encoding":{"x":{"field":"lab","type":"nominal"},"xOffset":{"field":"k","type":"nominal","scale":{"range":[20,42]}},"y":{"field":"v","type":"quantitative"}}},
  {"data":{"name":"box"},"transform":[{"filter":"datum.p=='x'"},{"lookup":"g","from":{"data":{"name":"grp"},"key":"g","fields":["lab"]}}],
   "mark":{"type":"tick","orient":"horizontal","size":61.5,"thickness":3,"color":"black","opacity":1},
   "encoding":{"x":{"field":"lab","type":"nominal"},"y":{"field":"md","type":"quantitative"}}},
  {"data":{"name":"ref"},"transform":[{"filter":"datum.p=='x'"}],"mark":{"type":"rule","color":"#ff3030","strokeDash":[9,6],"strokeWidth":2.2},"encoding":{"y":{"field":"r","type":"quantitative"}}},
  {"data":{"name":"grp"},"mark":{"type":"text","fontSize":13,"color":"#333","baseline":"middle","font":"Liberation Sans"},"encoding":{"x":{"field":"lab","type":"nominal"},"y":{"datum":38.6},"text":{"field":"nl"}}}
 ]}
],"spacing":8,"resolve":{"scale":{"y":"independent"}}},
{"width":388,"height":295,
 "layer":[
  {"data":{"name":"box"},"transform":[{"filter":"datum.p=='n'"},{"lookup":"g","from":{"data":{"name":"grp"},"key":"g","fields":["lab"]}}],
   "encoding":{"x":{"field":"lab","type":"nominal","title":null,"scale":{"paddingInner":0.288,"paddingOuter":0.322}}},
   "layer":[
    {"mark":{"type":"rule","color":"black","strokeWidth":1},"encoding":{"y":{"field":"lo","type":"quantitative","scale":{"domain":[-34.6,188.9],"nice":false,"zero":false},"axis":{"values":[0,36,72,108,144,180],"title":"Cmin,ss (μg/mL)"}},"y2":{"field":"hi"}}},
    {"mark":{"type":"tick","orient":"horizontal","size":35,"thickness":1.5,"color":"black","opacity":1},"encoding":{"y":{"field":"lo","type":"quantitative"}}},
    {"mark":{"type":"tick","orient":"horizontal","size":35,"thickness":1.5,"color":"black","opacity":1},"encoding":{"y":{"field":"hi","type":"quantitative"}}},
    {"mark":{"type":"rect","fill":"white","stroke":"#333","strokeWidth":1.2,"width":63.4},"encoding":{"y":{"field":"q1","type":"quantitative"},"y2":{"field":"q3"}}}
   ]},
  {"data":{"name":"pts"},"transform":[{"filter":"datum.p=='n'"},{"lookup":"g","from":{"data":{"name":"grp"},"key":"g","fields":["lab"]}}],
   "mark":{"type":"point","shape":"circle","filled":false,"color":"black","strokeWidth":1.2,"size":14,"opacity":1},
   "encoding":{"x":{"field":"lab","type":"nominal"},"xOffset":{"field":"k","type":"nominal","scale":{"range":[21,43]}},"y":{"field":"v","type":"quantitative"}}},
  {"data":{"name":"box"},"transform":[{"filter":"datum.p=='n'"},{"lookup":"g","from":{"data":{"name":"grp"},"key":"g","fields":["lab"]}}],
   "mark":{"type":"tick","orient":"horizontal","size":63,"thickness":3,"color":"black","opacity":1},
   "encoding":{"x":{"field":"lab","type":"nominal"},"y":{"field":"md","type":"quantitative"}}},
  {"data":{"name":"ref"},"transform":[{"filter":"datum.p=='n'"}],"mark":{"type":"rule","color":"#ff3030","strokeDash":[9,6],"strokeWidth":2.2},"encoding":{"y":{"field":"r","type":"quantitative"}}},
  {"data":{"name":"grp"},"mark":{"type":"text","fontSize":13,"color":"#333","baseline":"middle","font":"Liberation Sans"},"encoding":{"x":{"field":"lab","type":"nominal"},"y":{"datum":-27.8},"text":{"field":"nl"}}}
 ]}
],
"resolve":{"scale":{"y":"independent","x":"independent","xOffset":"independent"}}
}
